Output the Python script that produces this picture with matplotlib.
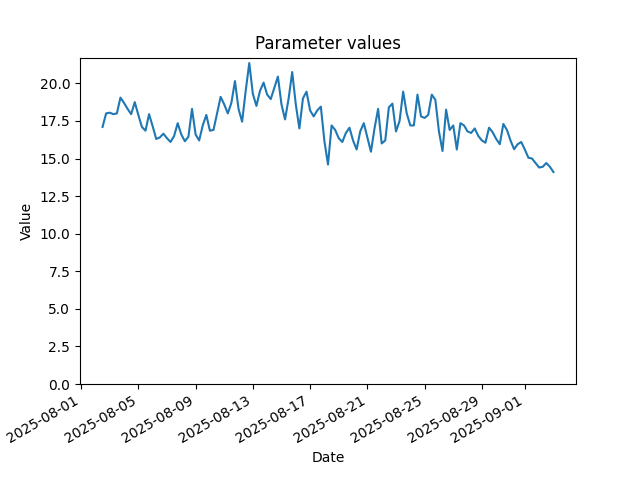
import numpy as np
import pandas as pd
import matplotlib
matplotlib.use('Agg')
import matplotlib.pyplot as plt

# 6-hourly readings, 2025-08-02 12:00 onwards
start = '2025-08-02 12:00'
values = [
    17.1, 18.0, 18.05, 17.95, 18.0, 19.05, 18.7, 18.3, 17.95, 18.75,
    17.9, 17.1, 16.85, 17.95, 17.15, 16.3, 16.4, 16.65, 16.35, 16.1,
    16.5, 17.35, 16.6, 16.15, 16.45, 18.3, 16.6, 16.2, 17.2, 17.9,
    16.85, 16.9, 18.0, 19.1, 18.6, 18.0, 18.7, 20.15, 18.3, 17.45,
    19.5, 21.35, 19.3, 18.5, 19.5, 20.05, 19.25, 18.95, 19.7, 20.45,
    18.6, 17.6, 19.0, 20.75, 18.6, 17.0, 19.0, 19.45, 18.2, 17.8,
    18.2, 18.45, 16.15, 14.6, 17.2, 16.9, 16.35, 16.1, 16.7, 17.05,
    16.2, 15.6, 16.8, 17.35, 16.4, 15.45, 17.0, 18.3, 16.0, 16.2,
    18.4, 18.65, 16.8, 17.5, 19.45, 18.0, 17.2, 17.2, 19.25, 17.8,
    17.7, 17.9, 19.25, 18.9, 16.8, 15.5, 18.25, 16.9, 17.2, 15.6,
    17.35, 17.2, 16.8, 16.7, 17.0, 16.5, 16.2, 16.05, 17.05, 16.75,
    16.3, 15.95, 17.3, 16.9, 16.2, 15.62, 15.95, 16.1, 15.6, 15.05,
    15.0, 14.7, 14.4, 14.45, 14.7, 14.45, 14.1,
]
dates = pd.date_range(start, periods=len(values), freq='6h')

fig, ax = plt.subplots(figsize=(6.4, 4.8), dpi=100)
ax.plot(dates, values)
ax.set_ylim(bottom=0)
ax.set_title('Parameter values')
ax.set_xlabel('Date')
ax.set_ylabel('Value')
fig.autofmt_xdate()

plt.savefig('out.png', dpi=100)
